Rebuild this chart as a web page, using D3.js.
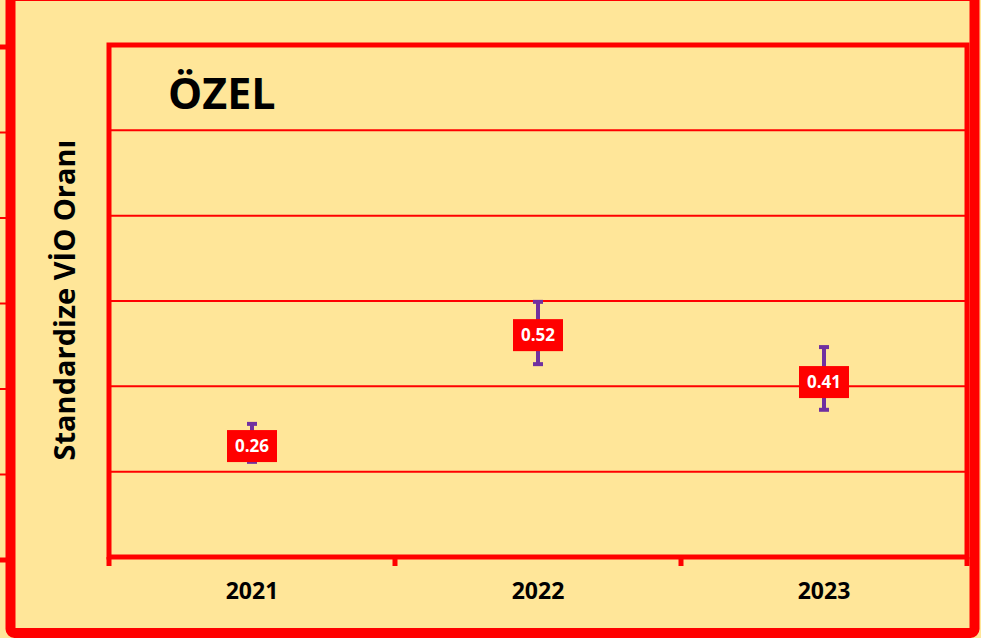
<!DOCTYPE html>
<html>

<head>
    <meta charset="utf-8">
    <style>
        body { margin: 0; background: #FFE699; }
        svg { display: block; }
        text { font-family: "Open Sans", sans-serif; font-weight: bold; }
        .grid { stroke: #FF0000; stroke-width: 2px; }
    </style>
</head>

<body>
    <script src="https://cdn.jsdelivr.net/npm/d3@7"></script>
    <script>
        // Chart values
        var years = ["2021", "2022", "2023"];
        var values = [0.26, 0.52, 0.41];
        var lower = [0.223, 0.452, 0.345];
        var upper = [0.312, 0.598, 0.492];
        var yTicks = [0, 0.2, 0.4, 0.6, 0.8, 1.0, 1.2];

        var W = 981, H = 638;
        var plot = { left: 109, right: 967, top: 45, bottom: 557 };

        var svg = d3.select("body").append("svg")
            .attr("width", W)
            .attr("height", H);

        svg.append("rect").attr("width", W).attr("height", H).attr("fill", "#FFE699");

        // Remnant of the neighbouring chart on the far left
        var yNb = d3.scaleLinear().domain([0, 1.2]).range([560, 47]);
        svg.append("g").selectAll("line").data(yTicks).enter().append("line")
            .attr("x1", 0).attr("x2", 8)
            .attr("y1", function (d) { return yNb(d); })
            .attr("y2", function (d) { return yNb(d); })
            .attr("stroke", "#FF0000")
            .attr("stroke-width", function (d, i) { return (i == 0 || i == yTicks.length - 1) ? 5 : 2; });

        // Outer frame
        svg.append("rect")
            .attr("x", 10.5).attr("y", -4)
            .attr("width", 964).attr("height", 637)
            .attr("rx", 4)
            .attr("fill", "none")
            .attr("stroke", "#FF0000")
            .attr("stroke-width", 10);

        var x = d3.scaleBand().domain(years).range([plot.left, plot.right]);
        var y = d3.scaleLinear().domain([0, 1.2]).range([plot.bottom, plot.top]);

        // Horizontal gridlines
        svg.append("g").selectAll("line").data(yTicks.slice(1, -1)).enter().append("line")
            .attr("class", "grid")
            .attr("x1", plot.left).attr("x2", plot.right)
            .attr("y1", function (d) { return y(d); })
            .attr("y2", function (d) { return y(d); });

        // Plot area border
        svg.append("rect")
            .attr("x", plot.left).attr("y", plot.top)
            .attr("width", plot.right - plot.left).attr("height", plot.bottom - plot.top)
            .attr("fill", "none")
            .attr("stroke", "#FF0000")
            .attr("stroke-width", 5);

        // X axis: ticks on the category boundaries, labels in the middle
        var xAxis = d3.axisBottom(x).tickSize(0).tickPadding(26);
        var gx = svg.append("g")
            .attr("transform", "translate(0," + plot.bottom + ")")
            .call(xAxis);
        gx.select(".domain").remove();
        gx.selectAll("text")
            .attr("fill", "#000")
            .style("font-size", "23px")
            .style("font-family", "'Open Sans', sans-serif");

        var bounds = years.map(function (d) { return x(d); }).concat([plot.right]);
        svg.append("g").selectAll("line").data(bounds).enter().append("line")
            .attr("x1", function (d) { return d; }).attr("x2", function (d) { return d; })
            .attr("y1", plot.bottom).attr("y2", plot.bottom + 9)
            .attr("stroke", "#FF0000")
            .attr("stroke-width", 5);

        // Error bars
        var bars = svg.append("g").selectAll("g").data(years).enter().append("g");
        var cx = function (d) { return x(d) + x.bandwidth() / 2; };
        bars.append("line")
            .attr("x1", cx).attr("x2", cx)
            .attr("y1", function (d, i) { return y(upper[i]); })
            .attr("y2", function (d, i) { return y(lower[i]); })
            .attr("stroke", "#7030A0").attr("stroke-width", 4);
        [upper, lower].forEach(function (arr) {
            bars.append("line")
                .attr("x1", function (d) { return cx(d) - 5; })
                .attr("x2", function (d) { return cx(d) + 5; })
                .attr("y1", function (d, i) { return y(arr[i]); })
                .attr("y2", function (d, i) { return y(arr[i]); })
                .attr("stroke", "#7030A0").attr("stroke-width", 4);
        });

        // Value labels
        bars.append("rect")
            .attr("x", function (d) { return cx(d) - 25; })
            .attr("y", function (d, i) { return y(values[i]) - 16; })
            .attr("width", 50).attr("height", 32)
            .attr("fill", "#FF0000");
        bars.append("text")
            .attr("x", cx)
            .attr("y", function (d, i) { return y(values[i]); })
            .attr("dy", "0.36em")
            .attr("text-anchor", "middle")
            .attr("fill", "#fff")
            .style("font-size", "17px")
            .text(function (d, i) { return values[i].toFixed(2); });

        // Title
        svg.append("text")
            .attr("x", 168).attr("y", 109)
            .style("font-size", "43px")
            .attr("fill", "#000")
            .text("ÖZEL");

        // Y axis title
        svg.append("text")
            .attr("transform", "translate(75," + 300 + ") rotate(-90)")
            .attr("text-anchor", "middle")
            .style("font-size", "29px")
            .attr("fill", "#000")
            .text("Standardize VİO Oranı");
    </script>
</body>

</html>
